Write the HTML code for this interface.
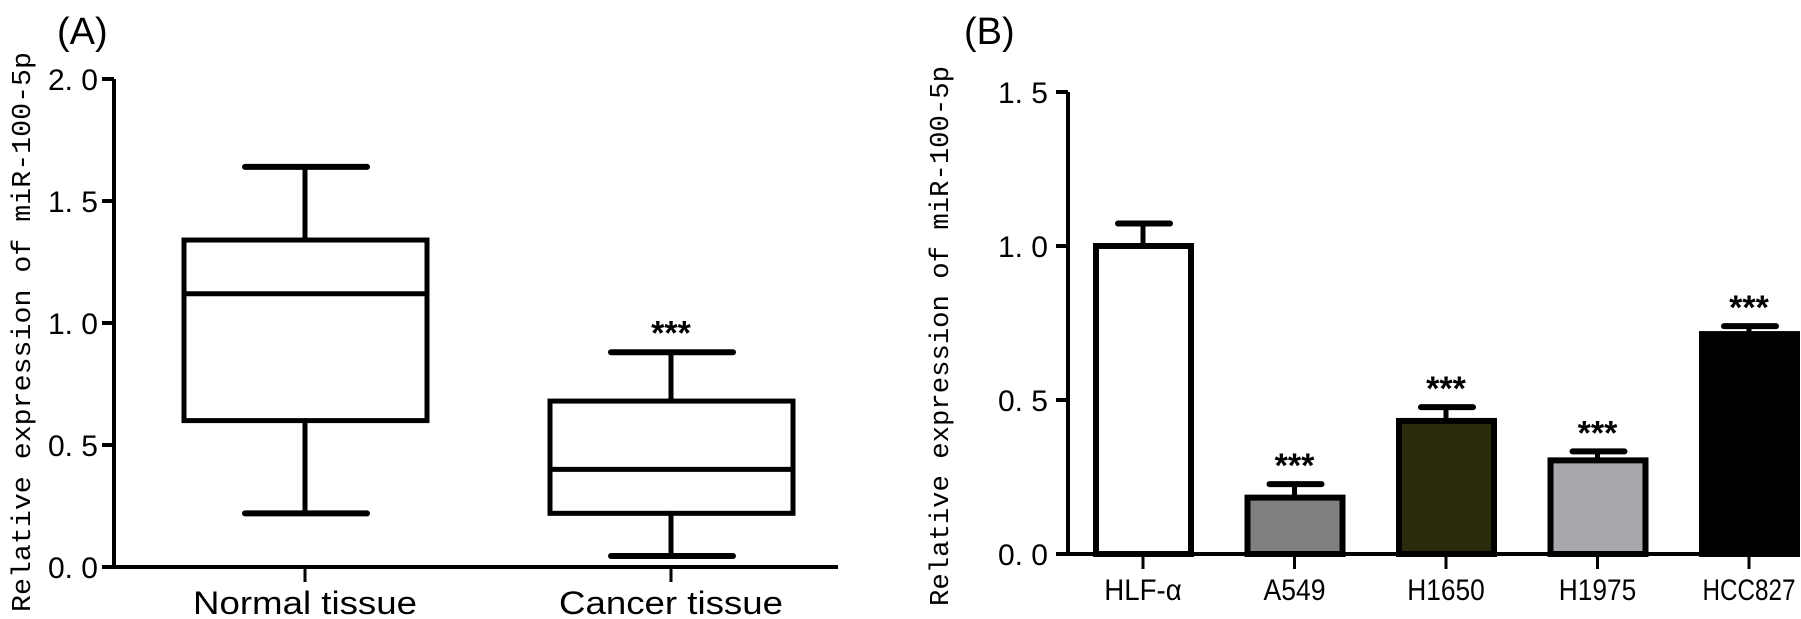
<!DOCTYPE html>
<html><head><meta charset="utf-8"><style>
html,body{margin:0;padding:0;background:#fff;}
svg{display:block;font-family:"Liberation Sans",sans-serif;}
</style></head><body>
<svg id="c" width="1801" height="619" viewBox="0 0 1801 619"></svg>
<script>
const boxGroups=["Normal tissue","Cancer tissue"];
const boxMax=[1.64,0.88];
const boxQ3=[1.34,0.68];
const boxMed=[1.12,0.40];
const boxQ1=[0.60,0.22];
const boxMin=[0.22,0.045];
const boxSig=["","***"];
const aTicks=[0,0.5,1.0,1.5,2.0];
const aTickLabels=["0. 0","0. 5","1. 0","1. 5","2. 0"];

const barCats=["HLF-α","A549","H1650","H1975","HCC827"];
const barVals=[1.0,0.183,0.432,0.304,0.714];
const barErr=[0.073,0.044,0.045,0.029,0.026];
const barSig=["","***","***","***","***"];
const barFill=["#ffffff","#808080","#2a2a0c","#a8a8ac","#000000"];
const bTicks=[0,0.5,1.0,1.5];
const bTickLabels=["0. 0","0. 5","1. 0","1. 5"];

const NS="http://www.w3.org/2000/svg";
const svg=document.getElementById('c');
function mk(t,a,p){const e=document.createElementNS(NS,t);for(const k in a)e.setAttribute(k,a[k]);(p||svg).appendChild(e);return e;}

// Panel A
const ay=v=>567-v*244;
const ax=i=>305+i*366;
const gA=mk('g',{});


let t=mk('text',{x:57,y:44,'font-size':38},gA);t.textContent='(A)';

let yt=mk('text',{x:0,y:0,'font-size':27,'font-family':'Liberation Mono, monospace',transform:'translate(30,612) rotate(-90)',textLength:560,lengthAdjust:'spacingAndGlyphs'},gA);
yt.textContent='Relative expression of miR-100-5p';

let l=mk('line',{x1:114,y1:ay(2),x2:114,y2:ay(0)+2,stroke:'#000','stroke-width':4},gA);

l=mk('line',{x1:112,y1:ay(0),x2:838,y2:ay(0),stroke:'#000','stroke-width':4},gA);

aTicks.forEach((v,i)=>{
 const tk=mk('line',{x1:102,y1:ay(v),x2:114,y2:ay(v),stroke:'#000','stroke-width':4},gA);
 
 const tl=mk('text',{x:98,y:ay(v)+11,'font-size':30,'text-anchor':'end'},gA);tl.textContent=aTickLabels[i];
 
});
boxGroups.forEach((g,i)=>{
 const cx=ax(i);
 const bg=mk('g',{fill:'none',stroke:'#000','stroke-width':5,'stroke-linecap':'round'},gA);
 
 mk('rect',{x:cx-121,y:ay(boxQ3[i]),width:243,height:ay(boxQ1[i])-ay(boxQ3[i])},bg);
 mk('line',{x1:cx-121,y1:ay(boxMed[i]),x2:cx+122,y2:ay(boxMed[i])},bg);
 mk('line',{x1:cx,y1:ay(boxMax[i]),x2:cx,y2:ay(boxQ3[i])},bg);
 mk('line',{x1:cx,y1:ay(boxQ1[i]),x2:cx,y2:ay(boxMin[i])},bg);
 mk('line',{x1:cx-60,y1:ay(boxMax[i]),x2:cx+62,y2:ay(boxMax[i]),'stroke-width':6},bg);
 mk('line',{x1:cx-60,y1:ay(boxMin[i]),x2:cx+62,y2:ay(boxMin[i]),'stroke-width':6},bg);
 const tk=mk('line',{x1:cx,y1:ay(0),x2:cx,y2:ay(0)+15,stroke:'#000','stroke-width':3},gA);
 
 const lb=mk('text',{x:cx,y:614,'font-size':32,'text-anchor':'middle',textLength:224,lengthAdjust:'spacingAndGlyphs'},gA);lb.textContent=g;
 
 if(boxSig[i]){const s=mk('text',{x:cx,y:ay(boxMax[i])-8,'font-size':34,'font-weight':'bold','text-anchor':'middle'},gA);s.textContent=boxSig[i];
 }
});

// Panel B
const by=v=>554-v*308;
const bx=i=>1143+i*151.5;
const gB=mk('g',{});


t=mk('text',{x:964,y:44,'font-size':38},gB);t.textContent='(B)';

yt=mk('text',{x:0,y:0,'font-size':27,'font-family':'Liberation Mono, monospace',transform:'translate(948,606) rotate(-90)',textLength:540,lengthAdjust:'spacingAndGlyphs'},gB);
yt.textContent='Relative expression of miR-100-5p';

l=mk('line',{x1:1068,y1:by(1.5),x2:1068,y2:by(0)+2,stroke:'#000','stroke-width':4},gB);

l=mk('line',{x1:1056,y1:by(0),x2:1800,y2:by(0),stroke:'#000','stroke-width':4},gB);

bTicks.forEach((v,i)=>{
 const tk=mk('line',{x1:1056,y1:by(v),x2:1068,y2:by(v),stroke:'#000','stroke-width':4},gB);
 
 const tl=mk('text',{x:1048,y:by(v)+11,'font-size':30,'text-anchor':'end'},gB);tl.textContent=bTickLabels[i];
 
});
barCats.forEach((c,i)=>{
 const cx=bx(i);
 const bg=mk('g',{},gB);
 
 mk('line',{x1:cx,y1:by(barVals[i]+barErr[i]),x2:cx,y2:by(barVals[i]),stroke:'#000','stroke-width':5},bg);
 mk('line',{x1:cx-25,y1:by(barVals[i]+barErr[i]),x2:cx+27,y2:by(barVals[i]+barErr[i]),stroke:'#000','stroke-width':6,'stroke-linecap':'round'},bg);
 mk('rect',{x:cx-47,y:by(barVals[i]),width:95,height:by(0)-by(barVals[i]),fill:barFill[i],stroke:'#000','stroke-width':6},bg);
 const tk=mk('line',{x1:cx,y1:by(0),x2:cx,y2:by(0)+15,stroke:'#000','stroke-width':3},gB);
 
 const lb=mk('text',{x:cx,y:600,'font-size':30,'text-anchor':'middle',textLength:c.length*15.5,lengthAdjust:'spacingAndGlyphs'},gB);lb.textContent=c;
 
 if(barSig[i]){const s=mk('text',{x:cx,y:by(barVals[i]+barErr[i])-7,'font-size':34,'font-weight':'bold','text-anchor':'middle'},gB);s.textContent=barSig[i];
 }
});
</script>
</body></html>
